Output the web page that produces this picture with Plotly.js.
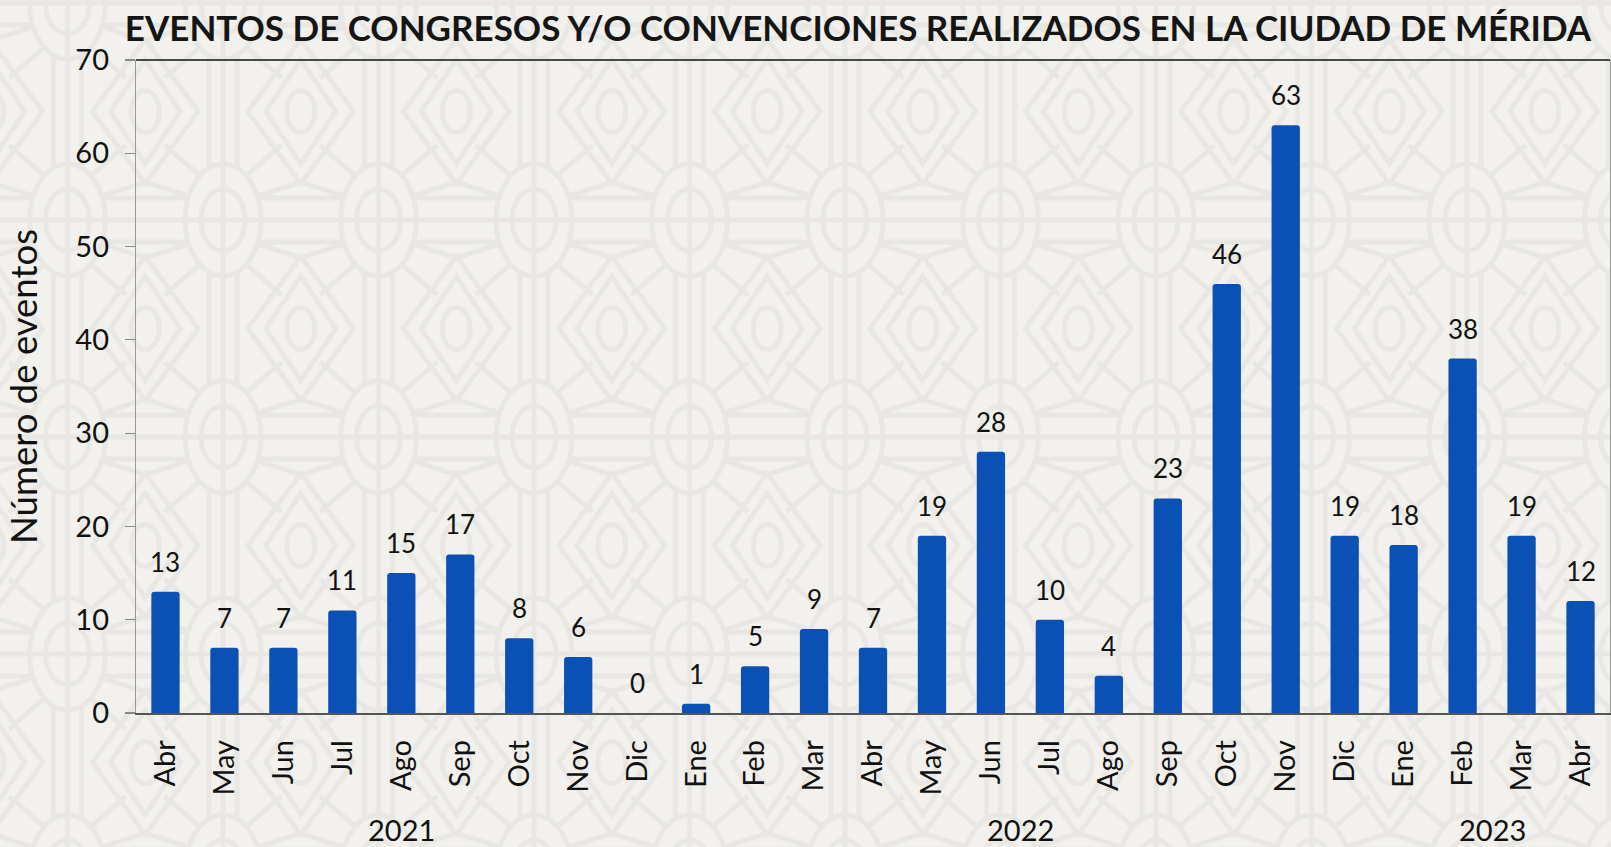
<!DOCTYPE html>
<html>
<head>
<meta charset="utf-8">
<script src="https://cdn.plot.ly/plotly-3.0.1.min.js"></script>
<style>
  html, body { margin:0; padding:0; width:1611px; height:847px; overflow:hidden; }
  #bg { position:absolute; left:0; top:0; width:1611px; height:847px; }
  #chart { position:absolute; left:0; top:0; width:1611px; height:847px; }
</style>
</head>
<body>
<div id="bg"></div>
<div id="chart"></div>
<script>
// ---- data ----
const months = ['Abr','May','Jun','Jul','Ago','Sep','Oct','Nov','Dic','Ene','Feb','Mar','Abr','May','Jun','Jul','Ago','Sep','Oct','Nov','Dic','Ene','Feb','Mar','Abr'];
const values = [13,7,7,11,15,17,8,6,0,1,5,9,7,19,28,10,4,23,46,63,19,18,38,19,12];
const years = ['2021','2022','2023'];
const yearCounts = [9,12,4];
const titleText = 'EVENTOS DE CONGRESOS Y/O CONVENCIONES REALIZADOS EN LA CIUDAD DE MÉRIDA';
const yTitle = 'Número de eventos';

// ---- decorative background pattern ----
(function(){
  const W = 155.5, H = 217, cx = W/2, cy = H/2;
  const st = 'stroke="#e9e7e3" stroke-width="5" fill="none"';
  let g = '';
  g += `<ellipse cx="${cx}" cy="${cy}" rx="38" ry="56" ${st}/>`;
  g += `<ellipse cx="${cx}" cy="${cy}" rx="22" ry="31" ${st}/>`;
  g += `<line x1="${cx}" y1="0" x2="${cx}" y2="${H}" ${st}/>`;
  g += `<line x1="0" y1="${cy}" x2="${W}" y2="${cy}" ${st}/>`;
  [-14,14].forEach(d=>{
    g += `<line x1="${cx+d}" y1="0" x2="${cx+d}" y2="${cy-54}" ${st}/>`;
    g += `<line x1="${cx+d}" y1="${cy+54}" x2="${cx+d}" y2="${H}" ${st}/>`;
  });
  [-22,22].forEach(d=>{
    g += `<line x1="0" y1="${cy+d}" x2="${cx-36}" y2="${cy+d}" ${st}/>`;
    g += `<line x1="${cx+36}" y1="${cy+d}" x2="${W}" y2="${cy+d}" ${st}/>`;
  });
  [25,52,155,128,205,232,335,308].forEach(a=>{
    const r = a*Math.PI/180;
    const x1 = cx + 40*Math.cos(r), y1 = cy + 58*Math.sin(r);
    const x2 = cx + 95*Math.cos(r), y2 = cy + 95*Math.sin(r);
    g += `<line x1="${x1}" y1="${y1}" x2="${x2}" y2="${y2}" ${st}/>`;
  });
  [[0,0],[W,0],[0,H],[W,H]].forEach(p=>{
    const [x,y] = p;
    g += `<polygon points="${x-53},${y} ${x},${y-72} ${x+53},${y} ${x},${y+72}" ${st}/>`;
    g += `<polygon points="${x-35},${y} ${x},${y-52} ${x+35},${y} ${x},${y+52}" ${st}/>`;
    g += `<ellipse cx="${x}" cy="${y}" rx="14" ry="21" ${st}/>`;
  });
  const svg = `<svg xmlns="http://www.w3.org/2000/svg" width="1611" height="847">
    <defs><pattern id="p" patternUnits="userSpaceOnUse" x="-10.25" y="-105.5" width="${W}" height="${H}">${g}</pattern></defs>
    <rect width="1611" height="847" fill="#f2f1ee"/>
    <rect width="1611" height="847" fill="url(#p)"/>
  </svg>`;
  document.getElementById('bg').style.background = 'url("data:image/svg+xml;charset=utf-8,' + encodeURIComponent(svg) + '")';
})();

// ---- chart ----
const xs = values.map((v,i)=>i);
const font = 'Lato, "Open Sans", sans-serif';

const annotations = values.map((v,i)=>({
  x: i, y: v, xref:'x', yref:'y', text: String(v), showarrow:false,
  yanchor:'bottom', yshift: 12, font:{family:font, size:26, color:'#111'}
}));
let start = 0;
years.forEach((yr,k)=>{
  annotations.push({
    x: start + (yearCounts[k]-1)/2, y: -0.179, xref:'x', yref:'paper',
    text: yr, showarrow:false, yanchor:'middle', xanchor:'center',
    font:{family:font, size:29, color:'#111'}
  });
  start += yearCounts[k];
});

const trace = {
  type:'bar', x: xs, y: values,
  marker:{color:'#0b51b5', cornerradius:3},
  hoverinfo:'skip'
};

const layout = {
  width:1611, height:847,
  margin:{l:136, r:1, t:60, b:134, pad:0},
  paper_bgcolor:'rgba(0,0,0,0)', plot_bgcolor:'rgba(0,0,0,0)',
  showlegend:false, bargap:0.52,
  title:{text:titleText, x:858/1611, xanchor:'center', xref:'container', y:1-29/847, yanchor:'middle', yref:'container',
    font:{family:font, size:35, color:'#151515', weight:700}},
  xaxis:{range:[-0.5,24.5], tickmode:'array', tickvals:xs, ticktext:months, tickangle:-90,
    tickfont:{family:font, size:29, color:'#111'}, showline:true, linecolor:'#555', linewidth:1.5,
    ticks:'', showgrid:false, zeroline:false, ticklabelstandoff:14, fixedrange:true},
  yaxis:{range:[0,70], dtick:10, ticks:'outside', ticklen:10, tickcolor:'#888', tickwidth:1.2,
    showline:true, linecolor:'#999', linewidth:1.2, mirror:true, showgrid:false, zeroline:false,
    tickfont:{family:font, size:29, color:'#111'}, ticklabelstandoff:10,
    title:{text:yTitle, font:{family:font, size:36.5, color:'#111'}, standoff:26}, fixedrange:true},
  shapes:[{type:'line', xref:'paper', yref:'paper', x0:0, x1:1, y0:1, y1:1, line:{color:'#111', width:1.5}}],
  annotations: annotations
};

Plotly.newPlot('chart', [trace], layout, {displayModeBar:false, staticPlot:true});
</script>
</body>
</html>
